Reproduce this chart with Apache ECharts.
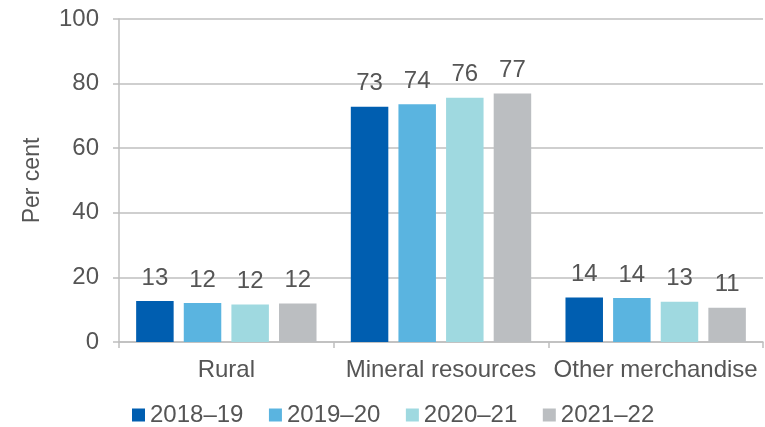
<!DOCTYPE html>
<html>
<head>
<meta charset="utf-8">
<script src="https://cdn.jsdelivr.net/npm/echarts@6/dist/echarts.min.js"></script>
<style>
html,body{margin:0;padding:0;background:#fff;}
#chart{width:765px;height:427px;}
</style>
</head>
<body>
<div id="chart"></div>
<script>
var categories = ['Rural', 'Mineral resources', 'Other merchandise'];
var seriesNames = ['2018–19', '2019–20', '2020–21', '2021–22'];
var s2018 = [12.7, 72.8, 13.8];
var s2019 = [12.1, 73.6, 13.6];
var s2020 = [11.6, 75.6, 12.5];
var s2021 = [11.9, 76.9, 10.6];
var yTicks = [0, 20, 40, 60, 80, 100];
var colors = ['#005EB0', '#5AB4E0', '#9FD9E0', '#BBBEC1'];

var font = 'Liberation Sans, Arial, sans-serif';
var textColor = '#555555';
var values = [s2018, s2019, s2020, s2021];

var chart = echarts.init(document.getElementById('chart'), null, {renderer: 'canvas'});
chart.setOption({
  animation: false,
  backgroundColor: '#ffffff',
  color: colors,
  grid: {left: 119, right: 2, top: 19, bottom: 85, containLabel: false},
  legend: {
    left: 132, top: 403, padding: 0,
    itemWidth: 13, itemHeight: 13, itemGap: 25.5, itemTextGap: 5,
    icon: 'rect',
    textStyle: {fontFamily: font, fontSize: 24, color: textColor, padding: [0, 0, 0, 0]},
    data: seriesNames
  },
  xAxis: {
    type: 'category',
    data: categories,
    axisLine: {show: true, lineStyle: {color: '#BFBFBF', width: 1.5}},
    axisTick: {show: true, length: 6, lineStyle: {color: '#BFBFBF', width: 1.5}},
    axisLabel: {interval: 0, fontFamily: font, fontSize: 24, color: textColor, margin: 16}
  },
  yAxis: {
    type: 'value',
    min: yTicks[0], max: yTicks[yTicks.length - 1], interval: 20,
    name: 'Per cent',
    nameLocation: 'middle',
    nameGap: 75,
    nameTextStyle: {fontFamily: font, fontSize: 23, color: textColor},
    axisLine: {show: true, lineStyle: {color: '#BFBFBF', width: 1.5}},
    axisTick: {show: true, length: 6, lineStyle: {color: '#BFBFBF', width: 1.5}},
    axisLabel: {fontFamily: font, fontSize: 24, color: textColor, margin: 20},
    splitLine: {show: true, lineStyle: {color: '#BFBFBF', width: 1.5}}
  },
  series: seriesNames.map(function (n, i) {
    return {
      name: n,
      type: 'bar',
      data: values[i],
      barWidth: 37.5,
      barGap: '27%',
      label: {
        show: true, position: 'top', distance: 11,
        fontFamily: font, fontSize: 24, color: textColor,
        formatter: function (p) { return Math.round(p.value); }
      }
    };
  })
});
</script>
</body>
</html>
